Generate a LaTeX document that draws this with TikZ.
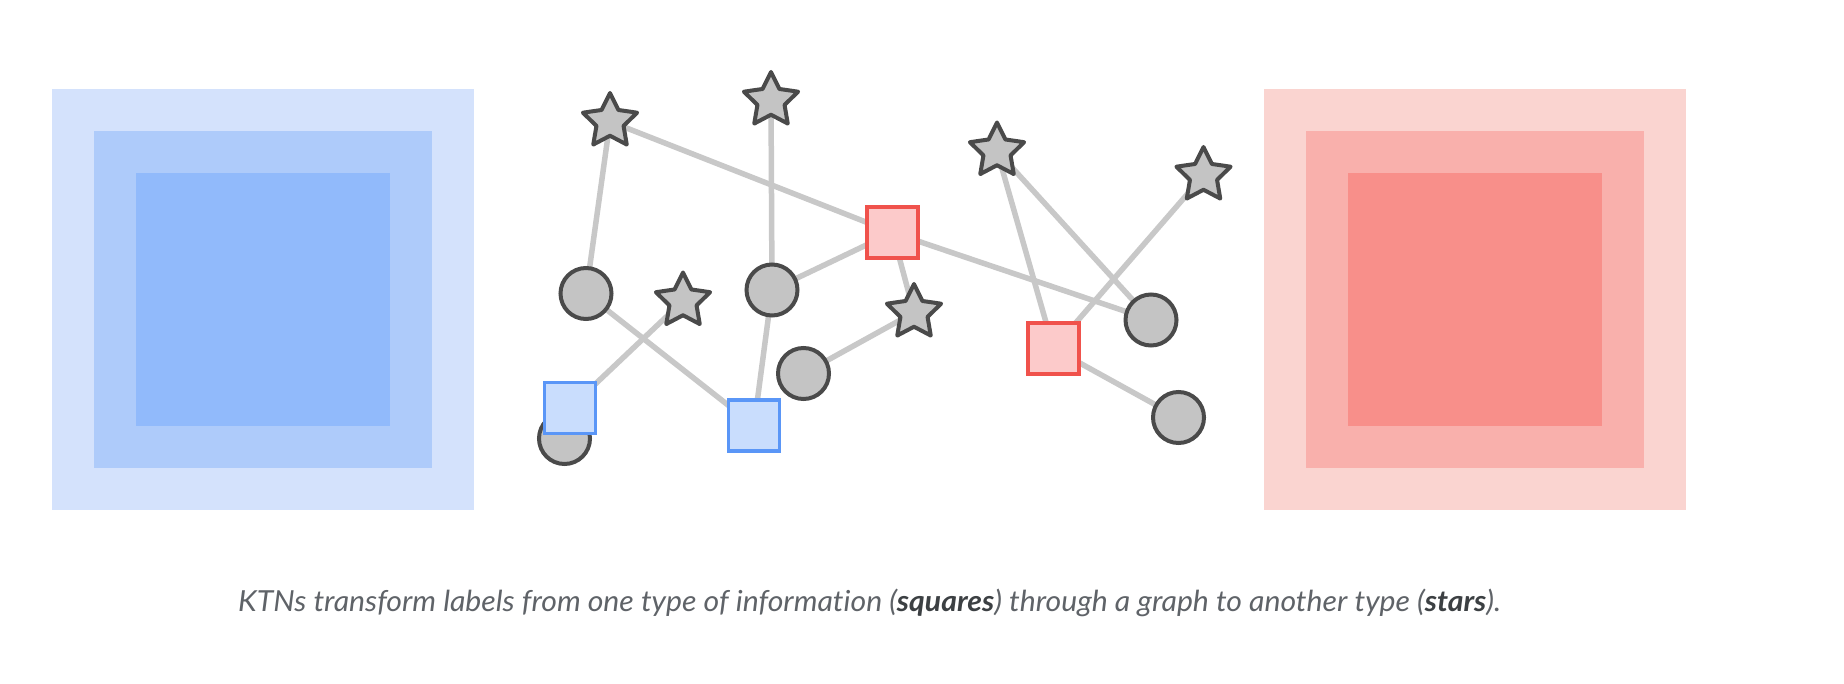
\documentclass[tikz,border=0pt]{standalone}
\usepackage{fontspec}
\usepackage{graphicx}
\setmainfont{Lato}[Ligatures={NoCommon}]
\usetikzlibrary{shapes.geometric,backgrounds}
\definecolor{blueA}{HTML}{D4E2FC}
\definecolor{blueB}{HTML}{AECBFA}
\definecolor{blueC}{HTML}{91BAFB}
\definecolor{redA}{HTML}{FAD4D0}
\definecolor{redB}{HTML}{F9B0AC}
\definecolor{redC}{HTML}{F88F8A}
\definecolor{nodefill}{HTML}{C4C4C4}
\definecolor{nodeline}{HTML}{4A4A4A}
\definecolor{edgecol}{HTML}{C8C8C8}
\definecolor{bsqfill}{HTML}{C9DDFD}
\definecolor{bsqline}{HTML}{5A96F7}
\definecolor{rsqfill}{HTML}{FCCACA}
\definecolor{rsqline}{HTML}{F0524C}
\definecolor{captext}{HTML}{5F6368}
\definecolor{capbold}{HTML}{3C4043}
\pgfdeclarelayer{edges}
\pgfsetlayers{background,edges,main}
\begin{document}
\begin{tikzpicture}[x=1pt,y=-1pt,
  starnode/.style={star, star points=5, star point ratio=2.0, minimum size=57pt, inner sep=0pt,
    fill=nodefill, draw=nodeline, line width=4pt, line join=round},
  circnode/.style={circle, minimum size=51pt, inner sep=0pt, fill=nodefill, draw=nodeline, line width=4pt},
  bluesq/.style={rectangle, minimum size=51pt, inner sep=0pt, fill=bsqfill, draw=bsqline, line width=3.8pt},
  redsq/.style={rectangle, minimum size=51pt, inner sep=0pt, fill=rsqfill, draw=rsqline, line width=3.8pt},
  link/.style={draw=edgecol, line width=5.5pt}]
\useasboundingbox (0,0) rectangle (1844,684);
\begin{pgfonlayer}{background}
\fill[white] (0,0) rectangle (1844,684);
\end{pgfonlayer}
% left blue block
\fill[blueA] (52,89) rectangle (474,510);
\fill[blueB] (94,131) rectangle (432,468);
\fill[blueC] (136,173) rectangle (390,426);
% right red block
\fill[redA] (1264,89) rectangle (1686,510);
\fill[redB] (1306,131) rectangle (1644,468);
\fill[redC] (1348,173) rectangle (1602,426);
% nodes
\node[starnode] (s1) at (610,121.5) {};
\node[starnode] (s2) at (771,100.5) {};
\node[starnode] (s3) at (683,301) {};
\node[starnode] (s4) at (914,312.5) {};
\node[starnode] (s5) at (997,151) {};
\node[starnode] (s6) at (1203.5,175.5) {};
\node[circnode] (c1) at (586,293.5) {};
\node[circnode] (c2) at (772,290) {};
\node[circnode] (c3) at (803.5,373.5) {};
\node[circnode] (c4) at (564.5,438.5) {};
\node[circnode] (c5) at (1151,320) {};
\node[circnode] (c6) at (1178.5,417.5) {};
\node[bluesq] (b1) at (570,408) {};
\node[bluesq] (b2) at (754,425.5) {};
\node[redsq] (r1) at (892.5,232.5) {};
\node[redsq] (r2) at (1053.5,348.5) {};
% edges
\begin{pgfonlayer}{edges}
\draw[link] (s1.center) -- (c1.center);
\draw[link] (s1.center) -- (r1.center);
\draw[link] (s2.center) -- (c2.center);
\draw[link] (c2.center) -- (b2.center);
\draw[link] (c2.center) -- (r1.center);
\draw[link] (r1.center) -- (s4.center);
\draw[link] (r1.center) -- (c5.center);
\draw[link] (s4.center) -- (c3.center);
\draw[link] (c1.center) -- (b2.center);
\draw[link] (s3.center) -- (b1.center);
\draw[link] (s5.center) -- (r2.center);
\draw[link] (s5.center) -- (c5.center);
\draw[link] (s6.center) -- (r2.center);
\draw[link] (r2.center) -- (c6.center);
\end{pgfonlayer}
% caption
\node[anchor=base west, inner sep=0pt, text=captext, font=\fontsize{29}{34}\selectfont\itshape] (cap) at (238,611.5)
  {\resizebox{1263pt}{\height}{KTNs transform labels from one type of information (\textcolor{capbold}{\bfseries squares}) through a graph to another type (\textcolor{capbold}{\bfseries stars}).}};
\end{tikzpicture}
\end{document}
